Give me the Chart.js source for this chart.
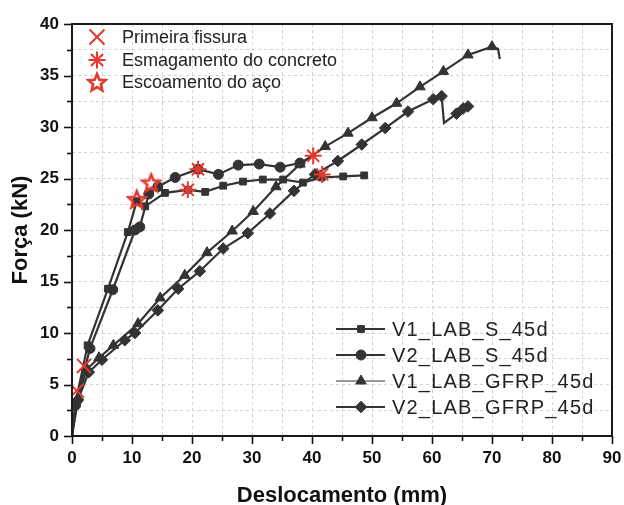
<!DOCTYPE html>
<html><head><meta charset="utf-8">
<script src="https://cdn.jsdelivr.net/npm/chart.js@4.4.1/dist/chart.umd.min.js"></script>
<style>
html,body{margin:0;padding:0;overflow:hidden;background:#fff;width:624px;height:505px}
#wrap{position:absolute;left:0;top:0;width:640px;height:509px}
</style></head><body>
<div id="wrap"><canvas id="c"></canvas></div>
<script>
// ---- data (mm, kN) ----
const s1X = [0, 0.5, 2.6, 6.0, 9.3, 10.8, 12.2, 15.5, 19.3, 22.2, 25.2, 28.5, 31.8, 35.2, 38.5, 41.6, 45.2, 48.7];
const s1Y = [0, 3.0, 8.8, 14.3, 19.8, 22.8, 22.3, 23.6, 23.9, 23.7, 24.3, 24.7, 24.9, 24.9, 24.6, 25.1, 25.2, 25.3];
const s2X = [0, 0.6, 3.0, 6.8, 10.5, 11.3, 12.8, 14.3, 17.2, 21.0, 24.4, 27.7, 31.2, 34.7, 38.0, 40.2];
const s2Y = [0, 3.0, 8.5, 14.2, 20.0, 20.3, 23.5, 24.2, 25.1, 25.9, 25.4, 26.3, 26.4, 26.1, 26.5, 27.2];
const g1X = [0, 0.8, 2.5, 4.5, 6.9, 11.0, 14.7, 18.8, 22.5, 26.7, 30.2, 34.0, 38.0, 42.2, 46.0, 50.0, 54.1, 58.0, 61.9, 66.0, 70.0, 71.0, 71.3];
const g1Y = [0, 3.5, 6.5, 7.6, 8.8, 10.9, 13.4, 15.6, 17.8, 19.9, 21.8, 24.2, 26.4, 28.1, 29.4, 30.9, 32.3, 33.9, 35.4, 37.0, 37.8, 37.6, 36.6];
const g2X = [0, 1.0, 2.8, 5.0, 8.8, 10.5, 14.3, 17.7, 21.3, 25.2, 29.3, 33.0, 37.0, 40.5, 44.3, 48.3, 52.2, 56.0, 60.2, 61.6, 62.0, 64.1, 65.2, 66.0];
const g2Y = [0, 3.5, 6.2, 7.4, 9.3, 10.0, 12.2, 14.3, 16.0, 18.2, 19.7, 21.6, 23.8, 25.4, 26.7, 28.3, 29.9, 31.5, 32.7, 33.0, 30.4, 31.3, 31.8, 32.0];
const crackX = [0.8, 2.0];
const crackY = [4.4, 6.8];
const crushX = [19.3, 21.0, 40.2, 41.7];
const crushY = [23.9, 25.9, 27.2, 25.4];
const yieldX = [10.8, 13.2];
const yieldY = [23.0, 24.6];
const seriesLabels = ['V1_LAB_S_45d', 'V2_LAB_S_45d', 'V1_LAB_GFRP_45d', 'V2_LAB_GFRP_45d'];
const markerLabels = ['Primeira fissura', 'Esmagamento do concreto', 'Escoamento do aço'];
const xTicks = [0, 10, 20, 30, 40, 50, 60, 70, 80, 90];
const yTicks = [0, 5, 10, 15, 20, 25, 30, 35, 40];

const RED = '#e4392f';
const DARK = '#333333';
const pts = (xs, ys) => xs.map((x, i) => ({x, y: ys[i]}));

// star outline image
function starImg(size) {
  const c = document.createElement('canvas');
  c.width = size; c.height = size;
  const g = c.getContext('2d');
  const cx = size / 2, cy = size / 2 + 1, R = size / 2 - 2, r = R * 0.45;
  g.beginPath();
  for (let i = 0; i < 10; i++) {
    const a = -Math.PI / 2 + i * Math.PI / 5;
    const rr = i % 2 === 0 ? R : r;
    const px = cx + rr * Math.cos(a), py = cy + rr * Math.sin(a);
    i === 0 ? g.moveTo(px, py) : g.lineTo(px, py);
  }
  g.closePath();
  g.strokeStyle = RED; g.lineWidth = 2.6; g.lineJoin = 'miter';
  g.stroke();
  return c;
}
const STAR = starImg(22);

const lineDS = (label, xs, ys, style, r, skip) => ({
  label, data: pts(xs, ys), showLine: true, borderColor: DARK, backgroundColor: DARK,
  borderWidth: 2.2, pointStyle: style,
  pointRadius: xs.map((_, i) => (i === 0 || skip.includes(i)) ? 0 : r),
  pointBorderWidth: 1, pointBorderColor: DARK, tension: 0, order: 2
});

const datasets = [
  {label: markerLabels[0], data: pts(crackX, crackY), showLine: false, pointStyle: 'crossRot', pointRadius: 10, borderColor: RED, borderWidth: 2, backgroundColor: RED, order: 1},
  {label: markerLabels[1], data: pts(crushX, crushY), showLine: false, pointStyle: 'star', pointRadius: 8.5, borderColor: RED, borderWidth: 2, backgroundColor: RED, order: 1},
  {label: markerLabels[2], data: pts(yieldX, yieldY), showLine: false, pointStyle: STAR, pointRadius: 10, borderColor: RED, backgroundColor: RED, order: 1},
  lineDS(seriesLabels[0], s1X, s1Y, 'rect', 4.8, []),
  lineDS(seriesLabels[1], s2X, s2Y, 'circle', 5, [15]),
  lineDS(seriesLabels[2], g1X, g1Y, 'triangle', 6, [21, 22]),
  lineDS(seriesLabels[3], g2X, g2Y, 'rectRot', 5.8, [20])
];

const decor = {
  id: 'decor',
  afterDraw(chart) {
    const ctx = chart.ctx, a = chart.chartArea, xs = chart.scales.x, ys = chart.scales.y;
    ctx.save();
    // ticks
    ctx.strokeStyle = '#111'; ctx.lineWidth = 1.6;
    for (let v = 0; v <= 90; v += 5) {
      const p = Math.round(xs.getPixelForValue(v)) + 0.5;
      const len = xTicks.includes(v) ? 8 : 5;
      ctx.beginPath(); ctx.moveTo(p, a.bottom); ctx.lineTo(p, a.bottom + len); ctx.stroke();
    }
    for (let v = 0; v <= 40; v += 2.5) {
      const p = Math.round(ys.getPixelForValue(v)) + 0.5;
      const len = yTicks.includes(v) ? 8 : 5;
      ctx.beginPath(); ctx.moveTo(a.left, p); ctx.lineTo(a.left - len, p); ctx.stroke();
    }
    // frame
    ctx.strokeStyle = '#1a1a1a'; ctx.lineWidth = 2;
    ctx.strokeRect(a.left, a.top, a.right - a.left, a.bottom - a.top);

    // upper legend (markers)
    ctx.font = '18px "Liberation Sans", Arial, sans-serif';
    ctx.fillStyle = '#222'; ctx.textBaseline = 'middle'; ctx.textAlign = 'left';
    const uy = [37, 60, 82], ux = 97;
    ctx.strokeStyle = RED; ctx.lineWidth = 2;
    let d = 7.5;
    ctx.beginPath(); ctx.moveTo(ux - d, uy[0] - d); ctx.lineTo(ux + d, uy[0] + d);
    ctx.moveTo(ux + d, uy[0] - d); ctx.lineTo(ux - d, uy[0] + d); ctx.stroke();
    d = 8.5; const dd = d * Math.SQRT1_2;
    ctx.beginPath();
    ctx.moveTo(ux - d, uy[1]); ctx.lineTo(ux + d, uy[1]);
    ctx.moveTo(ux, uy[1] - d); ctx.lineTo(ux, uy[1] + d);
    ctx.moveTo(ux - dd, uy[1] - dd); ctx.lineTo(ux + dd, uy[1] + dd);
    ctx.moveTo(ux + dd, uy[1] - dd); ctx.lineTo(ux - dd, uy[1] + dd);
    ctx.stroke();
    ctx.drawImage(STAR, ux - 11, uy[2] - 11, 22, 22);
    markerLabels.forEach((t, i) => ctx.fillText(t, 122, uy[i] + 1));

    // lower legend (series)
    const ly = [329, 355, 381, 407];
    const styles = ['rect', 'circle', 'triangle', 'rectRot'];
    const lineCols = [DARK, DARK, '#9a9a9a', DARK];
    const radii = [4.8, 5, 6, 5.8];
    ly.forEach((y, i) => {
      ctx.strokeStyle = lineCols[i]; ctx.lineWidth = 2.2;
      ctx.beginPath(); ctx.moveTo(336, y); ctx.lineTo(385, y); ctx.stroke();
      ctx.fillStyle = DARK; ctx.strokeStyle = DARK; ctx.lineWidth = 1;
      Chart.helpers.drawPoint(ctx, {pointStyle: styles[i], radius: radii[i], borderWidth: 1}, 361, y);
    });
    ctx.font = '20px "Liberation Sans", Arial, sans-serif';
    ctx.fillStyle = '#222';
    try { ctx.letterSpacing = '1.2px'; } catch (e) {}
    seriesLabels.forEach((t, i) => ctx.fillText(t, 392, ly[i] + 1));
    ctx.restore();
  }
};

const tickFont = {family: '"Liberation Sans", Arial, sans-serif', size: 17, weight: 'bold'};
const titleFont = {family: '"Liberation Sans", Arial, sans-serif', size: 22, weight: 'bold'};

new Chart(document.getElementById('c'), {
  type: 'scatter',
  data: {datasets},
  plugins: [decor],
  options: {
    responsive: true, maintainAspectRatio: false, animation: false, devicePixelRatio: 1,
    layout: {padding: {left: 0, right: 28, top: 24, bottom: 0}},
    plugins: {legend: {display: false}, tooltip: {enabled: false}},
    scales: {
      x: {
        type: 'linear', min: 0, max: 90,
        afterFit: s => { s.height = 73; },
        ticks: {stepSize: 5, autoSkip: false, maxRotation: 0, padding: 12, color: '#111', font: tickFont,
          callback: v => xTicks.includes(v) ? String(v) : ''},
        grid: {color: '#d2d2d2', lineWidth: 1, drawTicks: false},
        border: {display: false, dash: [3, 3]},
        title: {display: true, text: 'Deslocamento (mm)', color: '#111', font: titleFont, padding: {top: 0, bottom: 0}}
      },
      y: {
        type: 'linear', min: 0, max: 40,
        afterFit: s => { s.width = 72; },
        ticks: {stepSize: 2.5, autoSkip: false, padding: 13, color: '#111', font: tickFont,
          callback: v => yTicks.includes(v) ? String(v) : ''},
        grid: {color: '#d2d2d2', lineWidth: 1, drawTicks: false},
        border: {display: false, dash: [3, 3]},
        title: {display: true, text: 'Força (kN)', color: '#111', font: titleFont, padding: {top: 8, bottom: 0}}
      }
    }
  }
});
</script>
</body></html>
